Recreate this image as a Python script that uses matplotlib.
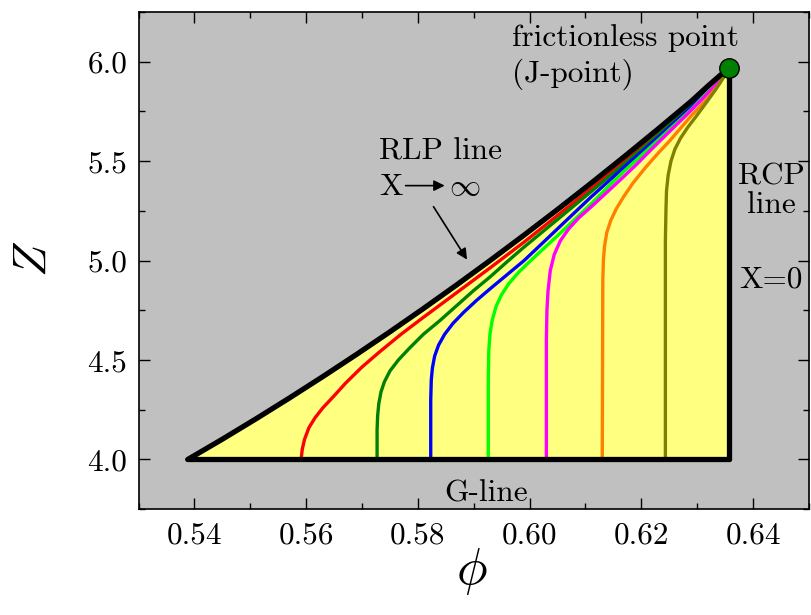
import matplotlib

matplotlib.use("Agg")
import matplotlib.pyplot as plt
from matplotlib.ticker import MultipleLocator, FormatStrFormatter

plt.rcParams["font.family"] = "serif"
plt.rcParams["font.serif"] = ["cmr10", "DejaVu Serif"]
plt.rcParams["mathtext.fontset"] = "cm"
plt.rcParams["axes.unicode_minus"] = False
plt.rcParams["axes.formatter.use_mathtext"] = True

# RLP line (X -> infinity)
rlp_phi = [0.5388, 0.545, 0.551, 0.557, 0.563, 0.569, 0.575, 0.581, 0.587,
           0.593, 0.599, 0.605, 0.611, 0.617, 0.623, 0.629, 0.632, 0.6356]
rlp_z = [4.000, 4.102, 4.204, 4.309, 4.417, 4.528, 4.642, 4.759, 4.879,
         5.002, 5.128, 5.257, 5.389, 5.524, 5.662, 5.803, 5.880, 5.968]

# J-point, RCP line and G-line
j_phi, j_z = 0.6356, 5.968
g_z = 4.0

# finite compactivity curves
red_phi = [0.5591, 0.5593, 0.5597, 0.5605, 0.5616, 0.5630, 0.5650, 0.5671,
           0.5700, 0.5731, 0.5770, 0.581, 0.587, 0.593, 0.599, 0.605, 0.611,
           0.617, 0.623, 0.629, 0.632, 0.6356]
red_z = [4.00, 4.05, 4.10, 4.16, 4.21, 4.26, 4.32, 4.385,
         4.465, 4.54, 4.63, 4.715, 4.84, 4.965, 5.093, 5.227, 5.363,
         5.502, 5.644, 5.79, 5.87, 5.968]

dgreen_phi = [0.5727, 0.5727, 0.5728, 0.5730, 0.5734, 0.5740, 0.5750, 0.5765,
              0.5785, 0.581, 0.584, 0.587, 0.590, 0.593, 0.596, 0.599, 0.605,
              0.611, 0.617, 0.623, 0.629, 0.632, 0.6356]
dgreen_z = [4.00, 4.15, 4.22, 4.28, 4.34, 4.39, 4.445, 4.50,
            4.56, 4.63, 4.70, 4.775, 4.85, 4.92, 4.995, 5.068, 5.207,
            5.347, 5.488, 5.632, 5.781, 5.864, 5.968]

blue_phi = [0.5823, 0.5823, 0.5824, 0.5826, 0.5830, 0.5837, 0.5848, 0.5863,
            0.5882, 0.5905, 0.593, 0.596, 0.599, 0.602, 0.605, 0.611, 0.617,
            0.623, 0.629, 0.632, 0.6356]
blue_z = [4.00, 4.30, 4.40, 4.46, 4.52, 4.575, 4.63, 4.685,
          4.74, 4.80, 4.86, 4.93, 5.00, 5.08, 5.16, 5.32, 5.472,
          5.62, 5.772, 5.858, 5.968]

lime_phi = [0.5926, 0.5926, 0.5927, 0.5929, 0.5933, 0.5940, 0.5950, 0.5963,
            0.5980, 0.6000, 0.6023, 0.605, 0.608, 0.611, 0.614, 0.617, 0.623,
            0.629, 0.632, 0.6356]
lime_z = [4.00, 4.40, 4.55, 4.63, 4.70, 4.77, 4.83, 4.885,
          4.94, 4.995, 5.055, 5.125, 5.205, 5.285, 5.37, 5.452, 5.606,
          5.762, 5.851, 5.968]

mag_phi = [0.6030, 0.6030, 0.6031, 0.6033, 0.6037, 0.6044, 0.6055, 0.6070,
           0.6088, 0.6110, 0.6135, 0.6160, 0.6190, 0.6220, 0.6250, 0.6280,
           0.6310, 0.6335, 0.6356]
mag_z = [4.00, 4.60, 4.75, 4.85, 4.95, 5.03, 5.10, 5.16,
         5.215, 5.27, 5.335, 5.40, 5.48, 5.565, 5.648, 5.73, 5.815,
         5.89, 5.968]

orange_phi = [0.6130, 0.6131, 0.6132, 0.6134, 0.6138, 0.6145, 0.6155, 0.6168,
              0.6185, 0.6208, 0.623, 0.625, 0.627, 0.629, 0.632, 0.634, 0.6356]
orange_z = [4.00, 4.90, 5.00, 5.07, 5.14, 5.20, 5.26, 5.32,
            5.39, 5.47, 5.54, 5.60, 5.665, 5.73, 5.82, 5.89, 5.968]

olive_phi = [0.6243, 0.6243, 0.6244, 0.6245, 0.6248, 0.6253, 0.6260, 0.6270,
             0.6283, 0.6298, 0.6315, 0.6333, 0.6348, 0.6356]
olive_z = [4.00, 5.10, 5.25, 5.35, 5.43, 5.50, 5.56, 5.615,
           5.67, 5.725, 5.79, 5.86, 5.925, 5.968]

curves = [
    (red_phi, red_z, "#ff0000"),
    (dgreen_phi, dgreen_z, "#008000"),
    (blue_phi, blue_z, "#0000ff"),
    (lime_phi, lime_z, "#00ff00"),
    (mag_phi, mag_z, "#ff00ff"),
    (orange_phi, orange_z, "#ff8000"),
    (olive_phi, olive_z, "#808000"),
]

fig = plt.figure(figsize=(8.11, 6.15), dpi=100)
ax = fig.add_axes([0.1708, 0.172, 0.8267, 0.8085])
ax.set_facecolor("#c0c0c0")

# yellow region between RLP, G-line and RCP line
ax.fill(rlp_phi + [j_phi], rlp_z + [g_z], color="#ffff80", lw=0, zorder=1)

for phi, z, col in curves:
    ax.plot(phi, z, color=col, lw=2.4, zorder=2, solid_joinstyle="round")

ax.plot(rlp_phi, rlp_z, color="black", lw=3.8, zorder=3,
        solid_capstyle="round", solid_joinstyle="round")
ax.plot([rlp_phi[0], j_phi], [g_z, g_z], color="black", lw=3.8, zorder=3,
        solid_capstyle="round")
ax.plot([j_phi, j_phi], [g_z, j_z], color="black", lw=3.8, zorder=3,
        solid_capstyle="round")
ax.plot([j_phi], [j_z], "o", ms=14, mfc="#008000", mec="black", mew=1.0, zorder=5)

fs = 22.5
ax.text(0.5969, 6.121, "frictionless point", fontsize=fs, ha="left", va="center")
ax.text(0.5969, 5.935, "(J-point)", fontsize=fs, ha="left", va="center")
ax.text(0.5731, 5.548, "RLP line", fontsize=fs, ha="left", va="center")
ax.text(0.5731, 5.372, "X", fontsize=fs, ha="left", va="center")
ax.text(0.5856, 5.372, r"$\infty$", fontsize=fs, ha="left", va="center")
ax.annotate("", xy=(0.5848, 5.377), xytext=(0.5778, 5.377),
            arrowprops=dict(arrowstyle="-|>", color="black", lw=1.2,
                            mutation_scale=16, shrinkA=0, shrinkB=0))
ax.annotate("", xy=(0.5888, 5.005), xytext=(0.5828, 5.271),
            arrowprops=dict(arrowstyle="-|>", color="black", lw=1.2,
                            mutation_scale=16, shrinkA=0, shrinkB=0))
ax.text(0.6432, 5.35, "RCP\nline", fontsize=fs, ha="center", va="center",
        linespacing=1.05)
ax.text(0.6432, 4.905, "X=0", fontsize=fs, ha="center", va="center")
ax.text(0.5922, 3.83, "G-line", fontsize=fs, ha="center", va="center")

ax.set_xlim(0.53, 0.65)
ax.set_ylim(3.75, 6.25)
ax.xaxis.set_major_locator(MultipleLocator(0.02))
ax.xaxis.set_minor_locator(MultipleLocator(0.01))
ax.yaxis.set_major_locator(MultipleLocator(0.5))
ax.yaxis.set_minor_locator(MultipleLocator(0.25))
ax.xaxis.set_major_formatter(FormatStrFormatter("%.2f"))
ax.yaxis.set_major_formatter(FormatStrFormatter("%.1f"))
ax.tick_params(which="both", direction="in", top=True, right=True, width=1.0,
               labelsize=fs)
ax.tick_params(which="major", length=8)
ax.tick_params(which="minor", length=4.5)
ax.tick_params(axis="x", which="major", pad=9)
ax.tick_params(axis="y", which="major", pad=8)
for s in ax.spines.values():
    s.set_linewidth(1.2)

ax.set_xlabel(r"$\phi$", fontsize=37)
ax.set_ylabel(r"$Z$", fontsize=34, rotation=90)
ax.xaxis.set_label_coords(0.497, -0.125)
ax.yaxis.set_label_coords(-0.154, 0.503)
ax.xaxis.label.set_va("center")
ax.yaxis.label.set_va("center")

plt.savefig("out.png", dpi=100)
plt.close(fig)
